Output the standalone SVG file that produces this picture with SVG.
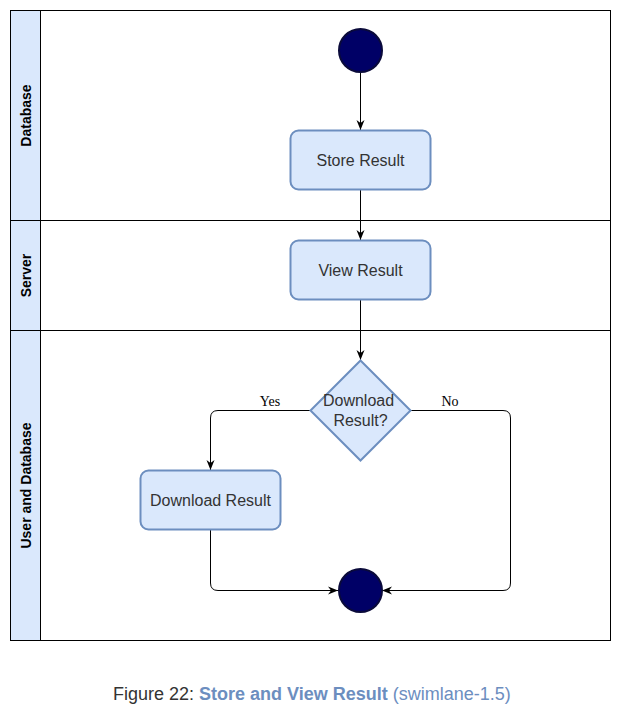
<svg xmlns="http://www.w3.org/2000/svg" width="621" height="721" viewBox="0 0 621 721">
<style>
.lane{fill:#ffffff;stroke:#000000;stroke-width:1}
.hdr{fill:#dae8fc;stroke:#000000;stroke-width:1}
.lt{font-family:"Liberation Sans",Arial,sans-serif;font-size:14px;font-weight:bold;fill:#000000;text-anchor:middle}
.box{fill:#dae8fc;stroke:#6c8ebf;stroke-width:2}
.bt{font-family:"Liberation Sans",Arial,sans-serif;font-size:16px;fill:#333333;text-anchor:middle}
.dot{fill:#000066;stroke:#0a0a3a;stroke-width:2}
.edge{fill:none;stroke:#000000;stroke-width:1}
.el{font-family:"Liberation Serif","Times New Roman",serif;font-size:14px;fill:#000000;text-anchor:middle}
.cap{font-family:"Liberation Sans",Arial,sans-serif;font-size:18px}
</style>
<defs>
<marker id="arr" viewBox="0 0 10 10" refX="10" refY="5" markerWidth="10" markerHeight="10" markerUnits="userSpaceOnUse" orient="auto">
<path d="M0,1 L10,5 L0,9 L3,5 Z" fill="#000000"/>
</marker>
</defs>
<rect width="621" height="721" fill="#ffffff"/>
<g id="lane-database">
<rect class="lane" x="10.5" y="10.5" width="600" height="210"/>
<rect class="hdr" x="10.5" y="10.5" width="30" height="210"/>
<text class="lt" transform="translate(30.5,115.5) rotate(-90)">Database</text>
</g>
<g id="lane-server">
<rect class="lane" x="10.5" y="220.5" width="600" height="110"/>
<rect class="hdr" x="10.5" y="220.5" width="30" height="110"/>
<text class="lt" transform="translate(30.5,275.5) rotate(-90)">Server</text>
</g>
<g id="lane-user">
<rect class="lane" x="10.5" y="330.5" width="600" height="310"/>
<rect class="hdr" x="10.5" y="330.5" width="30" height="310"/>
<text class="lt" transform="translate(30.5,485.5) rotate(-90)">User and Database</text>
</g>
<g id="connectors">
<path class="edge" d="M360.5,72 L360.5,130" marker-end="url(#arr)"/>
<path class="edge" d="M360.5,190 L360.5,240" marker-end="url(#arr)"/>
<path class="edge" d="M360.5,300 L360.5,360" marker-end="url(#arr)"/>
<path class="edge" d="M310,410.5 L218,410.5 Q210.5,410.5 210.5,418 L210.5,470" marker-end="url(#arr)"/>
<path class="edge" d="M410,410.5 L503,410.5 Q510.5,410.5 510.5,418 L510.5,583 Q510.5,590.5 503,590.5 L382,590.5" marker-end="url(#arr)"/>
<path class="edge" d="M210.5,530 L210.5,583 Q210.5,590.5 218,590.5 L338,590.5" marker-end="url(#arr)"/>
<text class="el" x="270" y="406">Yes</text>
<text class="el" x="450" y="406">No</text>
</g>
<g id="start">
<circle class="dot" cx="360.5" cy="50.5" r="21.5"/>
</g>
<g id="store-result">
<rect class="box" x="290.5" y="130.5" width="140" height="59" rx="8"/>
<text class="bt" x="360.5" y="166">Store Result</text>
</g>
<g id="view-result">
<rect class="box" x="290.5" y="240.5" width="140" height="59" rx="8"/>
<text class="bt" x="360.5" y="276">View Result</text>
</g>
<g id="decision">
<path class="box" d="M360.5,360.5 L410.5,410.5 L360.5,460.5 L310.5,410.5 Z"/>
<text class="bt" x="358.5" y="406">Download</text>
<text class="bt" x="360.5" y="426">Result?</text>
</g>
<g id="download-result">
<rect class="box" x="140.5" y="470.5" width="140" height="59" rx="8"/>
<text class="bt" x="210.5" y="506">Download Result</text>
</g>
<g id="end">
<circle class="dot" cx="360.5" cy="590.5" r="21.5"/>
</g>
<text class="cap" x="113" y="700"><tspan fill="#333333">Figure 22: </tspan><tspan fill="#6c8ebf" font-weight="bold">Store and View Result</tspan><tspan fill="#6c8ebf"> (swimlane-1.5)</tspan></text>
</svg>
